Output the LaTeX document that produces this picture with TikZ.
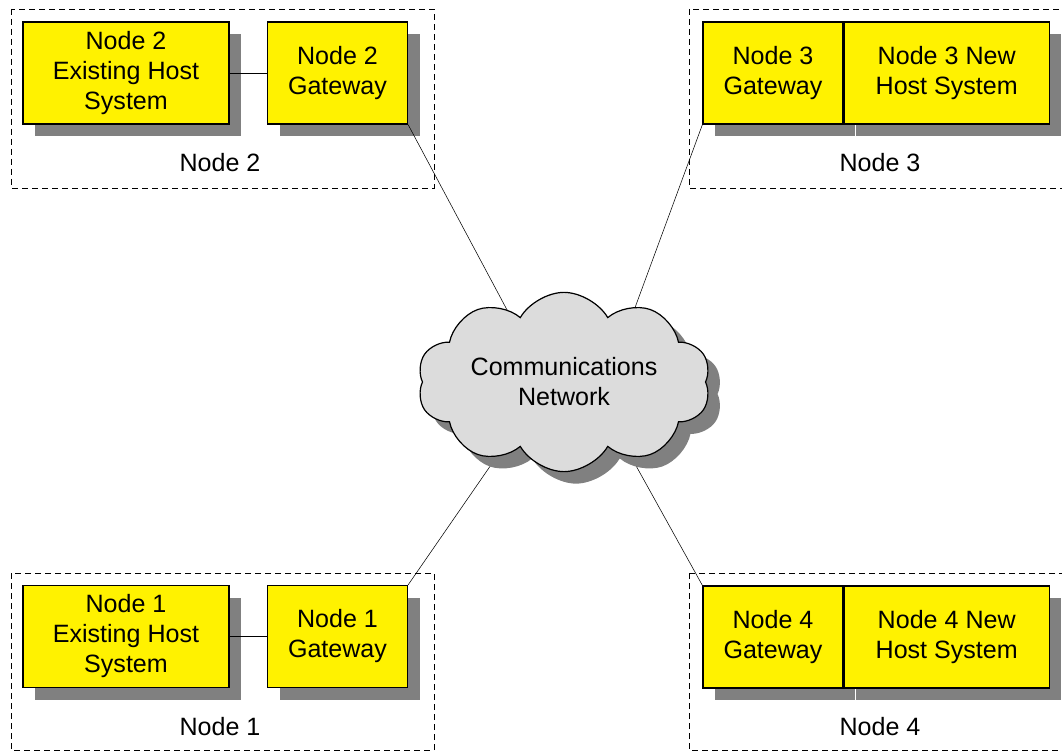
\documentclass[tikz,border=0pt]{standalone}
\usepackage{fontspec}
\setmainfont{Liberation Sans}
\usetikzlibrary{shapes.symbols,shadows,positioning}
\definecolor{cloudgray}{RGB}{220,220,220}
\definecolor{shadegray}{RGB}{128,128,128}
\tikzset{
    semithick,
    unit/.style ={rectangle, draw, fill=yellow, line width=0.9pt, align=center,
      minimum height=76.5pt, inner sep=2pt,
      font=\fontsize{18.8}{22.5}\selectfont,
      drop shadow={shadow xshift=9pt, shadow yshift=-9pt, fill=shadegray, opacity=1}},
    host/.style ={unit, minimum width=154.5pt},
    gate/.style ={unit, minimum width=105pt},
    site/.style ={draw, line width=0.7pt, dash pattern=on 4.5pt off 3pt},
    sitename/.style = {font=\fontsize{18.8}{22.5}\selectfont},
    net/.style = {cloud, draw, fill=cloudgray, line width=0.9pt, cloud puffs=10,
      cloud puff arc=120, aspect=1.9, minimum width=220pt, minimum height=115pt,
      inner sep=0pt, align=center, font=\fontsize{18.8}{22.5}\selectfont,
      drop shadow={shadow xshift=9pt, shadow yshift=-9pt, fill=shadegray, opacity=1}}
}
\begin{document}
\begin{tikzpicture}[x=0.75pt, y=-0.75pt]
  \useasboundingbox (0,0) rectangle (1062,752);

  % dashed site frames
  \draw[site] (11,9) rectangle (434,188);
  \draw[site] (689,9) rectangle (1080,188);
  \draw[site] (11,573) rectangle (434,750);
  \draw[site] (689,573) rectangle (1080,750);

  \node[sitename] (l2) at (220,163) {Node 2};
  \node[sitename] (l3) at (880,163) {Node 3};
  \node[sitename] (l1) at (220,727) {Node 1};
  \node[sitename] (l4) at (880,727) {Node 4};

  % node 2
  \node[host] (h2) at (126,73) {Node 2\\Existing Host\\System};
  \node[gate] (g2) at (337.5,73) {Node 2\\Gateway};
  % node 3
  \node[gate] (g3) at (773,73) {Node 3\\Gateway};
  \node[host, minimum width=153.75pt] (h3) [right =0pt of g3] {Node 3 New\\Host System};
  % node 1
  \node[host] (h1) at (126,636.5) {Node 1\\Existing Host\\System};
  \node[gate] (g1) at (337.5,636.5) {Node 1\\Gateway};
  % node 4
  \node[gate] (g4) at (773,637) {Node 4\\Gateway};
  \node[host, minimum width=153.75pt] (h4) [right =0pt of g4] {Node 4 New\\Host System};

  \draw (h2) -- (g2);
  \draw (h1) -- (g1);

  % links into the cloud
  \coordinate (n2) at (545,381);
  \coordinate (n3) at (608,381);
  \coordinate (n1) at (549,381);
  \coordinate (n4) at (589,381);
  \draw (g2.south east) -- (n2);
  \draw (g3.south west) -- (n3);
  \draw (g1.north east) -- (n1);
  \draw (g4.north west) -- (n4);

  % network
  \node[net] (net) at (564,382) {Communications\\Network};
\end{tikzpicture}
\end{document}
